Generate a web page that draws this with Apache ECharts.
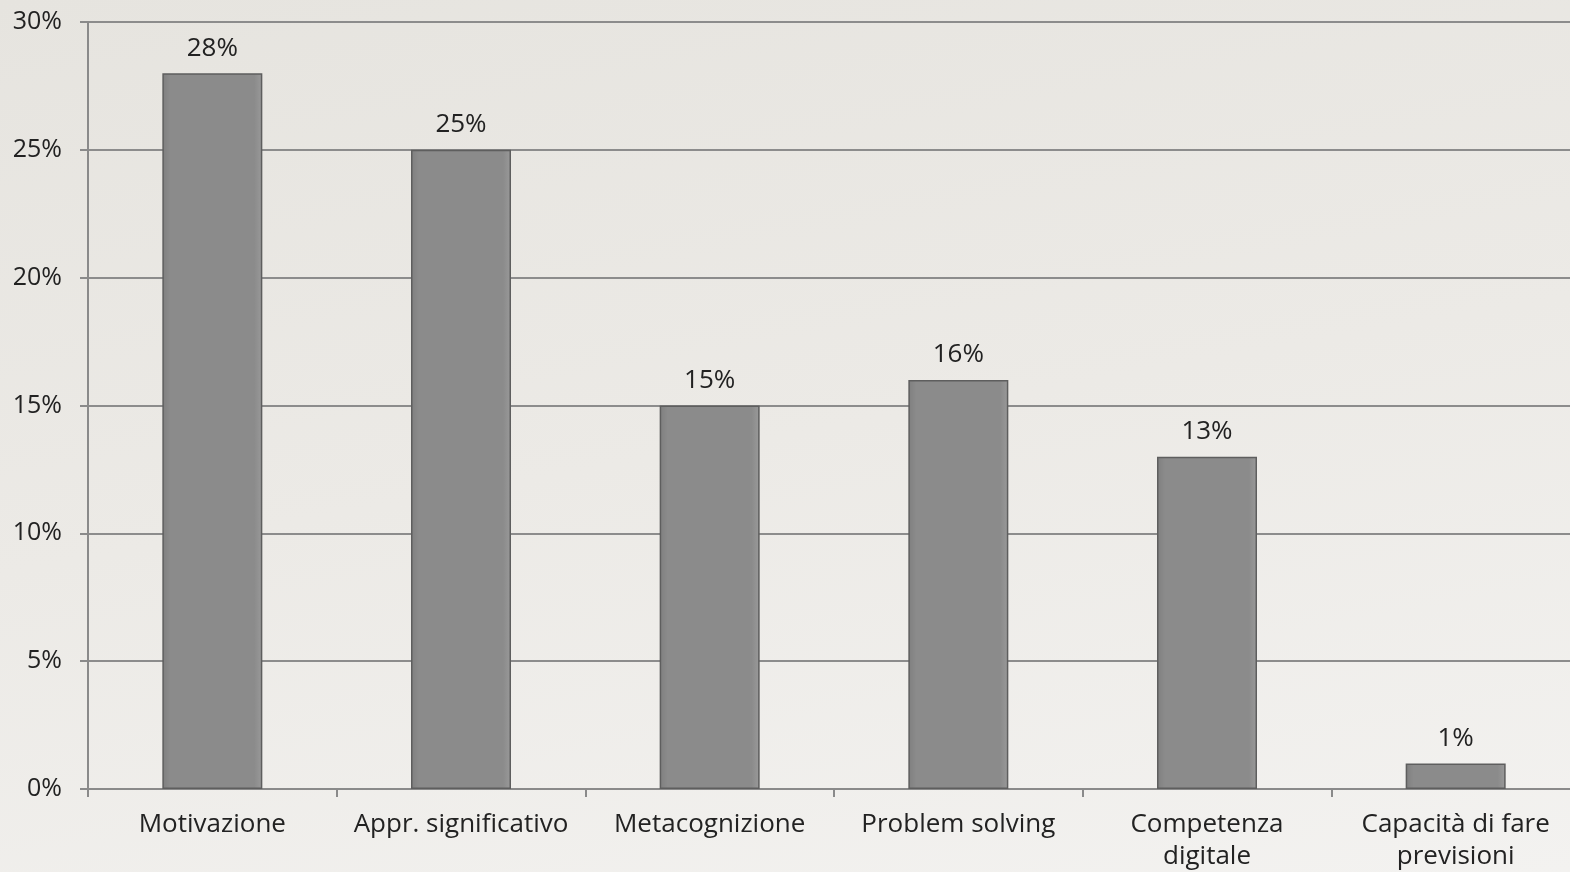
<!DOCTYPE html>
<html>
<head>
<meta charset="utf-8">
<script src="https://cdn.jsdelivr.net/npm/echarts@6/dist/echarts.min.js"></script>
<style>
html,body{margin:0;padding:0;}
#c{width:1570px;height:872px;background:linear-gradient(170deg,#e6e4df 0%,#eceae6 50%,#f3f2f0 100%);}
</style>
</head>
<body>
<div id="c"></div>
<script>
const categories = ['Motivazione', 'Appr. significativo', 'Metacognizione', 'Problem solving', 'Competenza\ndigitale', 'Capacità di fare\nprevisioni'];
const values = [28, 25, 15, 16, 13, 1];
const yTicks = [0, 5, 10, 15, 20, 25, 30];

const chart = echarts.init(document.getElementById('c'), null, {renderer: 'canvas'});
const font = '"Open Sans", Lato, sans-serif';
chart.setOption({
  backgroundColor: 'transparent',
  animation: false,
  grid: {left: 88, width: 1492, top: 22, height: 767, containLabel: false, outerBoundsMode: 'none'},
  xAxis: {
    type: 'category',
    data: categories,
    axisLine: {lineStyle: {color: '#8a8a8a', width: 2}},
    axisTick: {show: true, length: 8, lineStyle: {color: '#8a8a8a', width: 2}},
    axisLabel: {color: '#222', fontSize: 26, fontFamily: font, margin: 20, lineHeight: 32, interval: 0, hideOverlap: false}
  },
  yAxis: {
    type: 'value',
    min: yTicks[0], max: yTicks[yTicks.length - 1], interval: 5,
    axisLine: {show: true, lineStyle: {color: '#8a8a8a', width: 2}},
    axisTick: {show: true, length: 8, lineStyle: {color: '#8a8a8a', width: 2}},
    splitLine: {lineStyle: {color: '#8c8c8c', width: 2}},
    axisLabel: {color: '#222', fontSize: 25, fontFamily: font, margin: 26, formatter: v => v + '%'}
  },
  series: [{
    type: 'bar',
    data: values,
    barWidth: 100,
    itemStyle: {
      color: {type: 'linear', x: 0, y: 0, x2: 1, y2: 0, colorStops: [
        {offset: 0, color: '#7f7f7f'},
        {offset: 0.08, color: '#8b8b8b'},
        {offset: 0.92, color: '#8b8b8b'},
        {offset: 1, color: '#9a9a9a'}
      ]},
      borderColor: '#5e5e5e',
      borderWidth: 1.5
    },
    label: {show: true, position: 'top', distance: 12, color: '#222', fontSize: 26, fontFamily: font, formatter: p => p.value + '%'}
  }]
});
</script>
</body>
</html>
